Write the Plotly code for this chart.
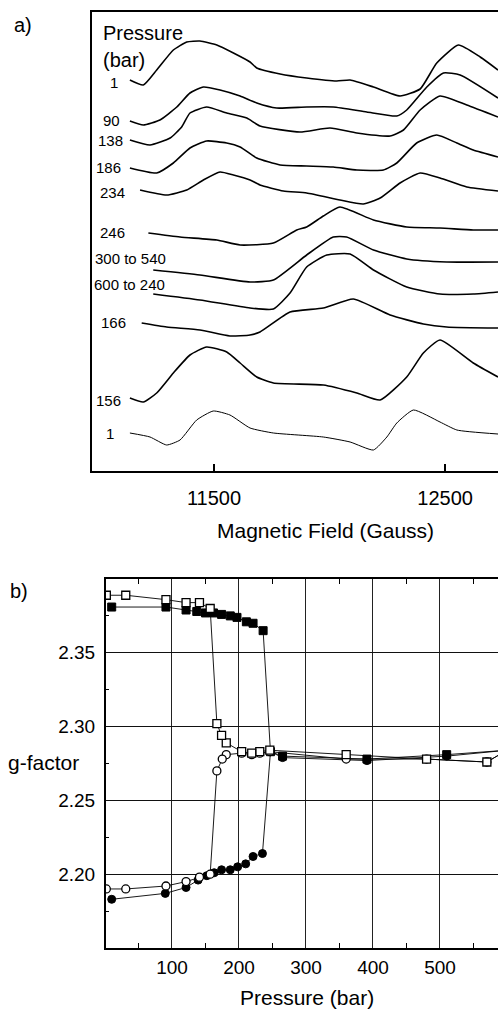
import plotly.graph_objects as go

W, H = 498, 1009
FONT = "Liberation Sans, Arial, Helvetica, sans-serif"

# ---------------- Panel a: EPR spectra (arbitrary units, stacked) ----------------
spectrum_labels = ["1", "90", "138", "186", "234", "246", "300 to 540", "600 to 240", "166", "156", "1"]

f1 = [11136, 11194, 11252, 11324, 11382, 11439, 11512, 11584, 11656, 11685, 11786, 11901, 12031, 12089, 12190, 12305, 12392, 12464, 12558, 12652, 12729]
s1 = [391, 386, 401, 421, 429, 430, 426, 418, 409, 403, 397, 393, 390, 391, 384, 375, 382, 408, 426, 414, 401]

f2 = [11136, 11194, 11266, 11339, 11396, 11454, 11526, 11613, 11685, 11771, 11901, 12016, 12161, 12291, 12334, 12421, 12493, 12565, 12729]
s2 = [350, 346, 351, 364, 378, 384, 381, 375, 368, 363, 364, 364, 359, 355, 361, 384, 398, 396, 373]

f3 = [11136, 11223, 11310, 11360, 11396, 11468, 11555, 11642, 11699, 11872, 12002, 12118, 12262, 12320, 12392, 12478, 12594, 12729]
s3 = [331, 326, 333, 344, 358, 364, 358, 353, 345, 339, 343, 338, 335, 341, 361, 375, 366, 354]

f4 = [11136, 11252, 11324, 11396, 11468, 11555, 11613, 11685, 11786, 11901, 12016, 12118, 12233, 12291, 12377, 12464, 12551, 12622, 12729]
s4 = [303, 298, 308, 323, 330, 328, 324, 313, 306, 305, 304, 301, 301, 308, 328, 336, 328, 321, 314]

f5 = [11180, 11295, 11382, 11454, 11526, 11584, 11656, 11699, 11800, 11901, 12045, 12146, 12219, 12305, 12392, 12478, 12594, 12729]
s5 = [281, 276, 281, 291, 299, 296, 291, 286, 280, 278, 271, 267, 273, 288, 298, 293, 284, 280]

f6 = [11216, 11353, 11512, 11613, 11757, 11858, 11901, 11973, 12045, 12190, 12334, 12478, 12622, 12729]
s6 = [238, 234, 231, 226, 228, 241, 244, 255, 264, 251, 244, 243, 241, 241]

f7 = [11237, 11439, 11656, 11757, 11901, 12016, 12074, 12190, 12334, 12507, 12729]
s7 = [201, 196, 189, 191, 216, 234, 234, 221, 212, 209, 209]

f8 = [11237, 11439, 11656, 11757, 11829, 11901, 11988, 12089, 12190, 12334, 12478, 12622, 12729]
s8 = [177, 171, 163, 162, 178, 204, 216, 217, 201, 184, 177, 177, 179]

f9 = [11187, 11295, 11439, 11569, 11656, 11699, 11829, 11973, 12103, 12262, 12406, 12507, 12729]
s9 = [148, 144, 141, 135, 136, 139, 159, 163, 172, 156, 147, 144, 143]

f10 = [11136, 11194, 11252, 11324, 11396, 11468, 11555, 11613, 11685, 11757, 11973, 12118, 12219, 12334, 12406, 12478, 12622, 12729]
s10 = [73, 69, 78, 98, 116, 124, 119, 108, 94, 88, 86, 78, 71, 94, 118, 131, 108, 94]

f11 = [11136, 11223, 11295, 11353, 11425, 11497, 11569, 11656, 11757, 11973, 12089, 12190, 12248, 12291, 12363, 12478, 12551, 12729]
s11 = [38, 34, 26, 31, 51, 60, 56, 43, 38, 34, 29, 21, 34, 48, 61, 49, 41, 37]

field_ticks = [11500, 12500]

# ---------------- Panel b: g-factor vs pressure ----------------
inc_upper_p = [10, 91, 121, 137, 150, 162, 174, 187, 197, 211, 221, 236, 247, 265, 391, 510, 600]
inc_upper_g = [2.381, 2.381, 2.379, 2.378, 2.377, 2.377, 2.376, 2.375, 2.374, 2.371, 2.370, 2.365, 2.283, 2.280, 2.278, 2.281, 2.284]
inc_lower_p = [10, 90, 121, 139, 152, 163, 174, 187, 198, 210, 221, 235, 247, 265, 391, 510, 600]
inc_lower_g = [2.183, 2.187, 2.191, 2.196, 2.199, 2.201, 2.203, 2.203, 2.205, 2.207, 2.212, 2.214, 2.283, 2.279, 2.277, 2.280, 2.284]
dec_upper_p = [600, 570, 480, 360, 246, 231, 219, 204, 181, 174, 167, 157, 141, 121, 91, 31, 2]
dec_upper_g = [2.284, 2.276, 2.278, 2.281, 2.284, 2.283, 2.282, 2.283, 2.289, 2.294, 2.302, 2.380, 2.384, 2.384, 2.386, 2.389, 2.389]
dec_lower_p = [600, 570, 480, 360, 246, 231, 219, 204, 181, 175, 167, 157, 141, 121, 91, 31, 2]
dec_lower_g = [2.284, 2.276, 2.278, 2.278, 2.283, 2.282, 2.281, 2.282, 2.281, 2.278, 2.270, 2.200, 2.198, 2.195, 2.192, 2.190, 2.190]

p_ticks = [100, 200, 300, 400, 500]
p_minor = [50, 150, 250, 350, 450, 550]
g_ticks = [2.20, 2.25, 2.30, 2.35]
g_minor = [2.175, 2.225, 2.275, 2.325, 2.375]


def xp(px):
    return px / W


def yp(py):
    return 1 - py / H


fig = go.Figure()

spectra = [(f1, s1), (f2, s2), (f3, s3), (f4, s4), (f5, s5), (f6, s6),
           (f7, s7), (f8, s8), (f9, s9), (f10, s10), (f11, s11)]
for i, (f, s) in enumerate(spectra):
    fig.add_trace(go.Scatter(
        x=f, y=s, mode="lines", xaxis="x", yaxis="y",
        line=dict(color="black", width=1.0 if i == len(spectra) - 1 else 1.6,
                  shape="spline", smoothing=0.5),
        showlegend=False, hoverinfo="skip"))

line_style = dict(color="black", width=0.9)
fig.add_trace(go.Scatter(x=inc_lower_p, y=inc_lower_g, mode="lines+markers", xaxis="x2", yaxis="y2",
                         line=line_style, showlegend=False,
                         marker=dict(symbol="circle", size=8, color="black", line=dict(color="black", width=1))))
fig.add_trace(go.Scatter(x=inc_upper_p, y=inc_upper_g, mode="lines+markers", xaxis="x2", yaxis="y2",
                         line=line_style, showlegend=False,
                         marker=dict(symbol="square", size=8, color="black", line=dict(color="black", width=1))))
fig.add_trace(go.Scatter(x=dec_lower_p, y=dec_lower_g, mode="lines+markers", xaxis="x2", yaxis="y2",
                         line=line_style, showlegend=False,
                         marker=dict(symbol="circle", size=8, color="white", line=dict(color="black", width=1.3))))
fig.add_trace(go.Scatter(x=dec_upper_p, y=dec_upper_g, mode="lines+markers", xaxis="x2", yaxis="y2",
                         line=line_style, showlegend=False,
                         marker=dict(symbol="square", size=8, color="white", line=dict(color="black", width=1.3))))

annotations = []


def ann(text, x, y, size, xanchor="left"):
    annotations.append(dict(text=text, x=xp(x), y=yp(y), xref="paper", yref="paper",
                            xanchor=xanchor, yanchor="middle", showarrow=False,
                            font=dict(family=FONT, size=size, color="black")))


label_pos = [(120, 82), (122, 121), (125, 140), (123, 168), (127, 192), (127, 233),
             (168, 259), (167, 284), (128, 323), (123, 400), (116, 434)]
for lab, (lx, ly) in zip(spectrum_labels, label_pos):
    ann(lab, lx, ly, 15, "right")

ann("a)", 12, 25, 20)
ann("Pressure", 101, 33, 20)
ann("(bar)", 101, 60, 20)
ann("Magnetic Field (Gauss)", 325, 530, 21, "center")
ann("b)", 8, 591, 20)
ann("g-factor", 6, 762, 21)
ann("Pressure (bar)", 307, 997, 21, "center")

fig.update_layout(
    width=W, height=H, margin=dict(l=0, r=0, t=0, b=0),
    paper_bgcolor="white", plot_bgcolor="white",
    font=dict(family=FONT, color="black"),
    showlegend=False,
    annotations=annotations,
    xaxis=dict(domain=[xp(92), 1], anchor="y", range=[10972, 12729],
               tickmode="array", tickvals=field_ticks, ticktext=[str(v) for v in field_ticks],
               ticks="inside", ticklen=7, tickwidth=1.5, tickcolor="black",
               showline=True, linewidth=2, linecolor="black", mirror=True,
               showgrid=False, zeroline=False, tickfont=dict(size=20), ticklabelstandoff=8),
    yaxis=dict(domain=[yp(471), yp(12)], anchor="x", range=[0, 459],
               showticklabels=False, ticks="", showline=True, linewidth=2, linecolor="black",
               showgrid=False, zeroline=False),
    xaxis2=dict(domain=[xp(106), 1], anchor="y2", range=[1.5, 586.6],
                tickmode="array", tickvals=p_ticks, ticktext=[str(v) for v in p_ticks],
                ticks="", showgrid=True, gridcolor="#222", gridwidth=1,
                showline=True, linewidth=2, linecolor="black", mirror="ticks",
                minor=dict(tickmode="array", tickvals=p_minor, ticks="inside", ticklen=5,
                           tickwidth=1.2, tickcolor="black", showgrid=False),
                zeroline=False, tickfont=dict(size=19), ticklabelstandoff=1),
    yaxis2=dict(domain=[yp(948), yp(579)], anchor="x2", range=[2.15, 2.40],
                tickmode="array", tickvals=g_ticks, ticktext=["%.2f" % v for v in g_ticks],
                ticks="", showgrid=True, gridcolor="#111", gridwidth=1.2,
                showline=True, linewidth=2, linecolor="black", mirror=False,
                minor=dict(tickmode="array", tickvals=g_minor, ticks="inside", ticklen=3,
                           tickwidth=1.2, tickcolor="black", showgrid=False),
                zeroline=False, tickfont=dict(size=19), ticklabelstandoff=5),
)

fig.write_html("out.html")
